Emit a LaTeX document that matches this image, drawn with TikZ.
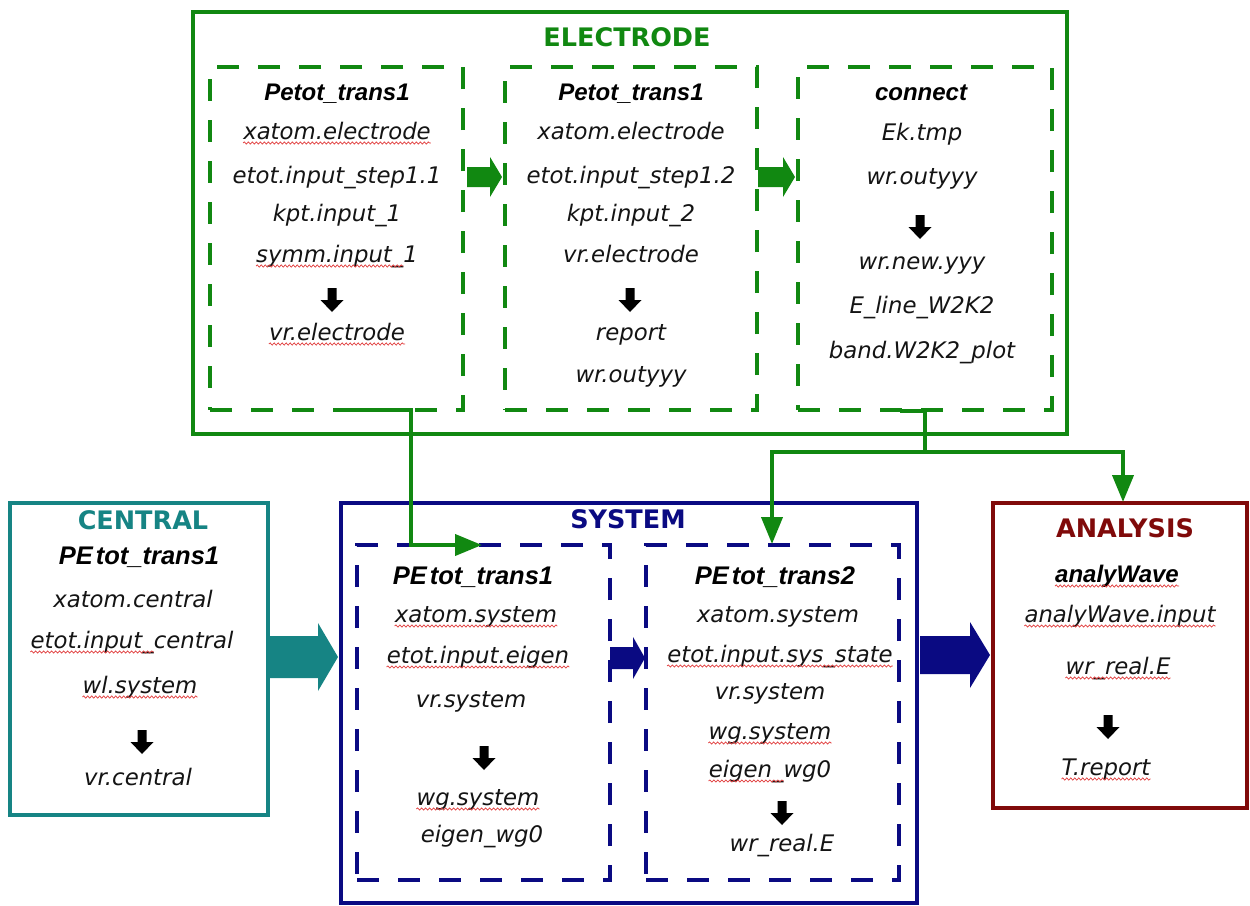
\documentclass[tikz,border=0pt]{standalone}
\usepackage{fontspec}
\setmainfont{DejaVu Sans}
\newfontfamily\hfont{Liberation Sans}
\usetikzlibrary{arrows.meta,decorations.pathmorphing}
\definecolor{egreen}{RGB}{17,136,17}
\definecolor{cteal}{RGB}{22,132,132}
\definecolor{snavy}{RGB}{10,10,130}
\definecolor{adred}{RGB}{128,10,10}
\definecolor{sqred}{RGB}{225,60,60}
\newcommand\bodyfont{\fontsize{22.8}{27}\selectfont\itshape}
\newcommand\barrow[7]{\fill[#7] (#1,#3-#4) -- (#2-#6,#3-#4) -- (#2-#6,#3-#5) -- (#2,#3) -- (#2-#6,#3+#5) -- (#2-#6,#3+#4) -- (#1,#3+#4) -- cycle;}
\newcommand\darrow[2]{\fill[black] (#1-4.5,#2-12) -- (#1+4.5,#2-12) -- (#1+4.5,#2) -- (#1+11.5,#2) -- (#1,#2+12) -- (#1-11.5,#2) -- (#1-4.5,#2) -- cycle;}
\newcommand\sqfull[1]{\draw[squig] ([yshift=-4pt]#1.base west) -- ([yshift=-4pt]#1.base east);}
% squiggle under the first part of a text: a phantom copy of that part gives its width
\newcommand\sqpart[2]{\node[tx, anchor=base west] (#1p) at (#1.base west) {\phantom{#2}};\sqfull{#1p}}
\newcommand\PEt{PE\kern3pt tot}
\tikzset{
  tx/.style={font=\bodyfont, anchor=base, inner sep=0pt, text=black!92},
  hd/.style={font=\fontsize{24}{28}\selectfont\hfont\bfseries\itshape, anchor=base, inner sep=0pt},
  hdp/.style={font=\fontsize{25.5}{29}\selectfont\hfont\bfseries\itshape, anchor=base, inner sep=0pt},
  ttl/.style={font=\fontsize{25.5}{30}\selectfont\bfseries, anchor=base, inner sep=0pt},
  solidbox/.style={draw=#1, line width=4pt, rectangle, inner sep=0pt},
  dashbox/.style={draw=#1, line width=4.5pt, dash pattern=on 22pt off 19pt, rectangle, inner sep=0pt},
  conn/.style={draw=egreen, line width=4pt},
  tipg/.style={-{Triangle[length=27pt,width=21pt]}},
  squig/.style={draw=sqred, line width=0.7pt, decorate, decoration={snake, amplitude=1.1pt, segment length=4pt}}
}
\begin{document}
\begin{tikzpicture}[x=1pt,y=-1pt]
\useasboundingbox (0,0) rectangle (1250,905);
\fill[white] (0,0) rectangle (1250,905);

% ===== ELECTRODE =====
\node[solidbox=egreen, minimum width=874pt, minimum height=422pt] (elec) at (630,223) {};
\node[ttl, text=egreen] (electt) at (627,37+9) {ELECTRODE};
\node[dashbox=egreen, minimum width=253pt, minimum height=343pt] (e1) at (336.5,238.5) {};
\node[dashbox=egreen, minimum width=252pt, minimum height=343pt] (e2) at (631,238.5) {};
\node[dashbox=egreen, minimum width=254pt, minimum height=343pt] (e3) at (925,238.5) {};

\node[hd] (e1h) at (337,92+8) {Petot\_trans1};
\node[tx] (e1a) at (337,132+7) {xatom.electrode};
\node[tx] (e1b) at (337,176+7) {etot.input\_step1.1};
\node[tx] (e1c) at (337,214+7) {kpt.input\_1};
\node[tx] (e1d) at (337,255+7) {symm.input\_1};
\darrow{332}{300}
\node[tx] (e1e) at (337,333+7) {vr.electrode};
\sqfull{e1a}
\sqpart{e1d}{symm.input\_}
\sqfull{e1e}

\node[hd] (e2h) at (631,92+8) {Petot\_trans1};
\node[tx] (e2a) at (631,132+7) {xatom.electrode};
\node[tx] (e2b) at (631,176+7) {etot.input\_step1.2};
\node[tx] (e2c) at (631,214+7) {kpt.input\_2};
\node[tx] (e2d) at (631,255+7) {vr.electrode};
\darrow{630}{300}
\node[tx] (e2e) at (631,333+7) {report};
\node[tx] (e2f) at (631,375+7) {wr.outyyy};

\node[hd] (e3h) at (921,92+8) {connect};
\node[tx] (e3a) at (922,133+7) {Ek.tmp};
\node[tx] (e3b) at (922,177+7) {wr.outyyy};
\darrow{920}{227}
\node[tx] (e3c) at (922,262+7) {wr.new.yyy};
\node[tx] (e3d) at (922,306+7) {E\_line\_W2K2};
\node[tx] (e3e) at (922,351+7) {band.W2K2\_plot};

\barrow{467}{502}{177}{10}{20}{12}{egreen}
\barrow{758}{795}{177}{10}{20}{12}{egreen}

% ===== CENTRAL =====
\node[solidbox=cteal, minimum width=258pt, minimum height=312pt] (cen) at (139,659) {};
\node[ttl, text=cteal] (cent) at (143,520+9) {CENTRAL};
\node[hdp] (ch) at (139,556+8) {\PEt\_trans1};
\node[tx] (ca) at (133,600+7) {xatom.central};
\node[tx] (cb) at (132,641+7) {etot.input\_central};
\node[tx] (cc) at (140,686+7) {wl.system};
\darrow{142}{742}
\node[tx] (cd) at (138,778+7) {vr.central};
\sqpart{cb}{etot.input\_}
\sqfull{cc}

\barrow{268}{338}{657}{21}{34}{20}{cteal}

% ===== SYSTEM =====
\node[solidbox=snavy, minimum width=576pt, minimum height=400pt] (sys) at (629,703) {};
\node[ttl, text=snavy] (syst) at (628,519+9) {SYSTEM};
\node[dashbox=snavy, minimum width=253pt, minimum height=335pt] (sA) at (483.5,712.5) {};
\node[dashbox=snavy, minimum width=253pt, minimum height=335pt] (sB) at (772.5,712.5) {};

\node[hdp] (sAh) at (473,576+8) {\PEt\_trans1};
\node[tx] (sAa) at (476,615+7) {xatom.system};
\node[tx] (sAb) at (478,656+7) {etot.input.eigen};
\node[tx] (sAc) at (471,700+7) {vr.system};
\darrow{484}{758}
\node[tx] (sAd) at (478,798+7) {wg.system};
\node[tx] (sAe) at (482,835+7) {eigen\_wg0};
\sqfull{sAa}
\sqfull{sAb}
\sqfull{sAd}

\node[hdp] (sBh) at (775,576+8) {\PEt\_trans2};
\node[tx] (sBa) at (778,615+7) {xatom.system};
\node[tx] (sBb) at (780,655+7) {etot.input.sys\_state};
\node[tx] (sBc) at (770,692+7) {vr.system};
\node[tx] (sBd) at (770,732+7) {wg.system};
\node[tx] (sBe) at (770,770+7) {eigen\_wg0};
\darrow{782}{813}
\node[tx] (sBf) at (782,844+7) {wr\_real.E};
\sqfull{sBb}
\sqfull{sBd}
\sqpart{sBe}{eigen\_}

\barrow{610}{645}{658}{11}{21}{12}{snavy}
\barrow{920}{990}{655}{19}{33}{20}{snavy}

% ===== ANALYSIS =====
\node[solidbox=adred, minimum width=254pt, minimum height=305pt] (ana) at (1120,655.5) {};
\node[ttl, text=adred] (anat) at (1125,528+9) {ANALYSIS};
\node[hd] (anh) at (1117,574+8) {analyWave};
\node[tx] (ana1) at (1120,615+7) {analyWave.input};
\node[tx] (ana2) at (1118,667+7) {wr\_real.E};
\darrow{1108}{727}
\node[tx] (ana3) at (1106,768+7) {T.report};
\sqfull{anh}
\sqfull{ana1}
\sqfull{ana2}
\sqfull{ana3}

% ===== connectors =====
\coordinate (a0) at (345,410);
\coordinate (a1) at (411,410);
\coordinate (a2) at (411,545);
\coordinate (a3) at (482,545);
\draw[conn, tipg] (a0) -- (a1) -- (a2) -- (a3);

\coordinate (b0) at (900,411);
\coordinate (b1) at (925,411);
\coordinate (b2) at (925,452);
\coordinate (b3) at (772,452);
\coordinate (b4) at (772,544);
\coordinate (b5) at (1123,452);
\coordinate (b6) at (1123,502);
\draw[conn] (b0) -- (b1) -- (b2);
\draw[conn, tipg] (b2) -- (b3) -- (b4);
\draw[conn, tipg] (b2) -- (b5) -- (b6);
\end{tikzpicture}
\end{document}
